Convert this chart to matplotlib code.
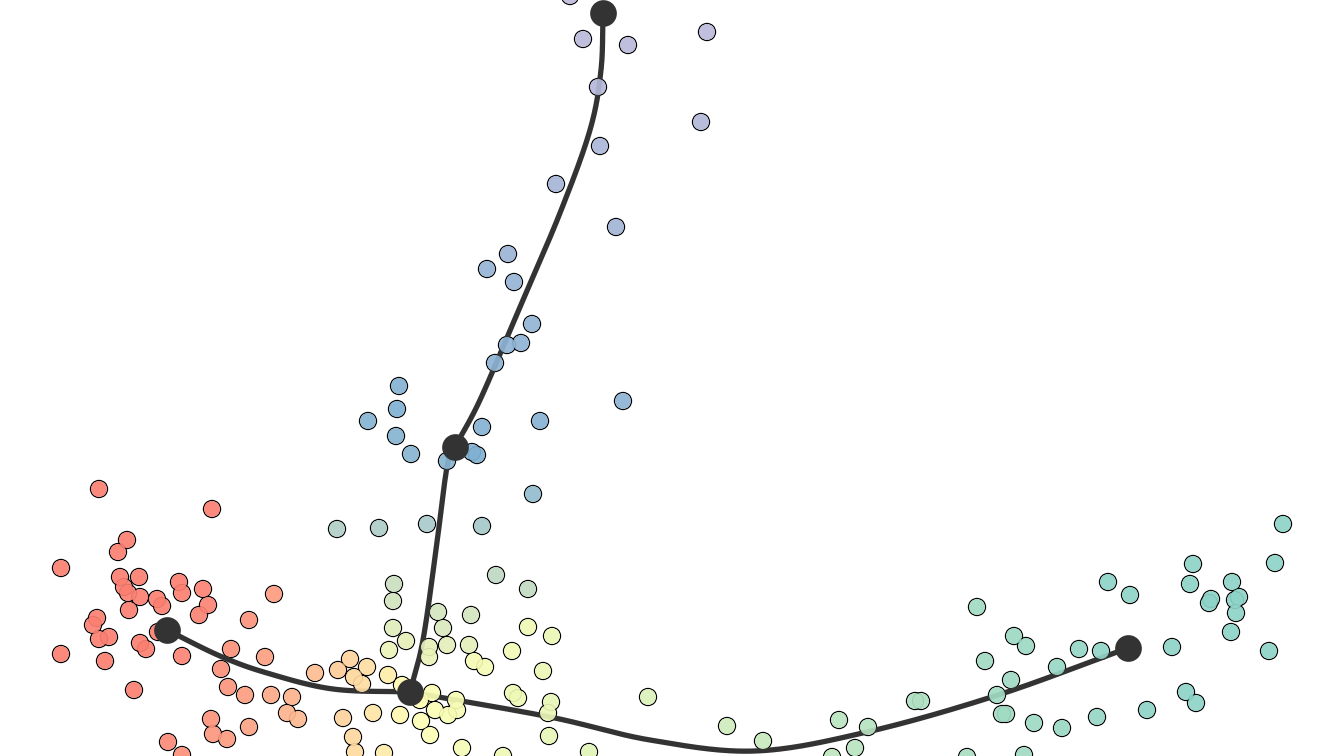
import numpy as np
from matplotlib import pyplot as plt
from matplotlib.colors import to_rgb

# cell embedding (screen-like coordinates, y grows downward)
cell_x = [99, 212, 127, 118, 61, 120, 139, 124, 128, 140, 179, 182, 203, 157, 162, 208, 199, 129,
          97, 93, 99, 109, 140, 146, 158, 61, 105, 182, 134,
          274, 249, 231, 265, 221, 228, 245, 271, 292, 287, 298, 211, 213, 227, 249, 168, 182,
          337, 379, 427, 482,
          496, 528, 394, 393, 438, 471, 393, 443, 406, 389, 429, 447, 429, 469, 474, 485, 512, 528,
          552, 543, 513, 518, 551, 548, 549, 589, 350, 367, 338, 315, 354, 362, 388, 402, 432, 456,
          420, 435, 448, 457, 343, 373, 400, 421, 430, 353, 355, 384, 462, 503,
          648, 727, 763, 839, 868, 855, 832, 915, 921, 977, 985, 997, 1002, 967,
          1283, 1275, 1193, 1190, 1232, 1211, 1209, 1239, 1235, 1236, 1231, 1269, 1172, 1108, 1130,
          1014, 1026, 1079, 1101, 1057, 1011, 1006, 1034, 1062, 1097, 1147, 1186, 1196, 1024,
          583, 628, 707, 598, 701, 600, 556, 616, 508, 487, 514, 532, 507, 521, 495, 399, 397, 368,
          396, 411, 482, 540, 623, 447, 472, 477, 533, 570]
cell_y = [489, 509, 540, 552, 568, 577, 577, 587, 593, 597, 582, 593, 589, 599, 606, 605, 615, 610,
          618, 625, 639, 637, 643, 649, 632, 654, 661, 656, 690,
          594, 620, 649, 657, 669, 687, 695, 695, 697, 713, 719, 719, 734, 739, 727, 742, 755,
          529, 528, 524, 526,
          575, 589, 584, 601, 612, 615, 628, 628, 641, 650, 647, 645, 657, 645, 661, 667, 651, 627,
          636, 671, 693, 698, 702, 713, 736, 752, 659, 667, 670, 673, 677, 684, 675, 685, 693, 700,
          700, 710, 715, 710, 718, 713, 715, 721, 735, 737, 752, 753, 748, 756,
          697, 726, 741, 720, 727, 748, 757, 701, 701, 607, 661, 695, 714, 757,
          524, 563, 564, 584, 582, 599, 603, 597, 600, 613, 632, 651, 647, 582, 595,
          636, 646, 649, 651, 667, 680, 714, 723, 728, 717, 710, 692, 703, 755,
          39, 45, 32, 87, 122, 146, 184, 227, 254, 269, 282, 324, 345, 343, 363, 386, 409, 421,
          436, 454, 427, 421, 401, 461, 452, 455, 494, -4]

# principal curve knots
left_curve = [(167, 630), (220, 656), (267, 673), (333, 689), (410, 692)]
right_curve = [(410, 692), (550, 717), (650, 740), (755, 751), (867, 732), (998, 695), (1128, 648)]
up_curve = [(410, 692), (423, 640), (436, 550), (447, 467), (455, 447), (480, 400), (520, 307),
            (560, 213), (590, 130), (601, 70), (603, 13)]
node_x = [167, 410, 455, 603, 1128]
node_y = [630, 692, 447, 13, 648]
BRANCH_NODE = 4  # knot index of the middle node on the upward curve

SALMON, YELLOW, TEAL, BLUE, LAVENDER = '#fb8072', '#ffffb3', '#8dd3c7', '#80b1d3', '#bebada'
N = 30


def smooth(pts, n=N):
    p = np.asarray(pts, float)
    p = np.vstack([2 * p[0] - p[1], p, 2 * p[-1] - p[-2]])
    out = []
    t = np.linspace(0, 1, n, endpoint=False)[:, None]
    for i in range(1, len(p) - 2):
        p0, p1, p2, p3 = p[i - 1], p[i], p[i + 1], p[i + 2]
        out.append(0.5 * (2 * p1 + (-p0 + p2) * t + (2 * p0 - 5 * p1 + 4 * p2 - p3) * t ** 2
                          + (-p0 + 3 * p1 - 3 * p2 + p3) * t ** 3))
    out.append(p[-2][None])
    return np.vstack(out)


def arclen(c):
    return np.r_[0, np.cumsum(np.hypot(*np.diff(c, axis=0).T))]


def mix(a, b, s):
    a, b = np.array(to_rgb(a)), np.array(to_rgb(b))
    return a + (b - a) * s


curves = [smooth(left_curve), smooth(right_curve), smooth(up_curve)]
lens = [arclen(c) for c in curves]
split = lens[2][BRANCH_NODE * N]

# colour each cell by its position along the nearest branch
colors = []
for x, y in zip(cell_x, cell_y):
    best = None
    for k, c in enumerate(curves):
        d = np.hypot(c[:, 0] - x, c[:, 1] - y)
        i = d.argmin()
        if best is None or d[i] < best[0]:
            best = (d[i], k, i)
    _, k, i = best
    L = lens[k]
    if k == 0:
        colors.append(mix(SALMON, YELLOW, (L[i] / L[-1]) ** 1.5))
    elif k == 1:
        colors.append(mix(YELLOW, TEAL, L[i] / L[-1]))
    elif L[i] <= split:
        colors.append(mix(YELLOW, BLUE, L[i] / split))
    else:
        colors.append(mix(BLUE, LAVENDER, (L[i] - split) / (L[-1] - split)))

fig = plt.figure(figsize=(13.44, 7.56), dpi=100)
ax = fig.add_axes([0, 0, 1, 1])

ax.scatter(cell_x, cell_y, s=150, facecolors='none', edgecolors='black', linewidths=0.95, zorder=1)
for c in curves:
    ax.plot(c[:, 0], c[:, 1], color='#333333', lw=3.8, solid_capstyle='round', zorder=2)
ax.scatter(cell_x, cell_y, s=132, c=colors, linewidths=0, alpha=0.92, zorder=3)
ax.scatter(node_x, node_y, s=370, color='#333333', linewidths=0, zorder=4)

ax.set_xlim(0, 1344)
ax.set_ylim(756, 0)
ax.axis('off')
fig.savefig('out.png', dpi=100)
